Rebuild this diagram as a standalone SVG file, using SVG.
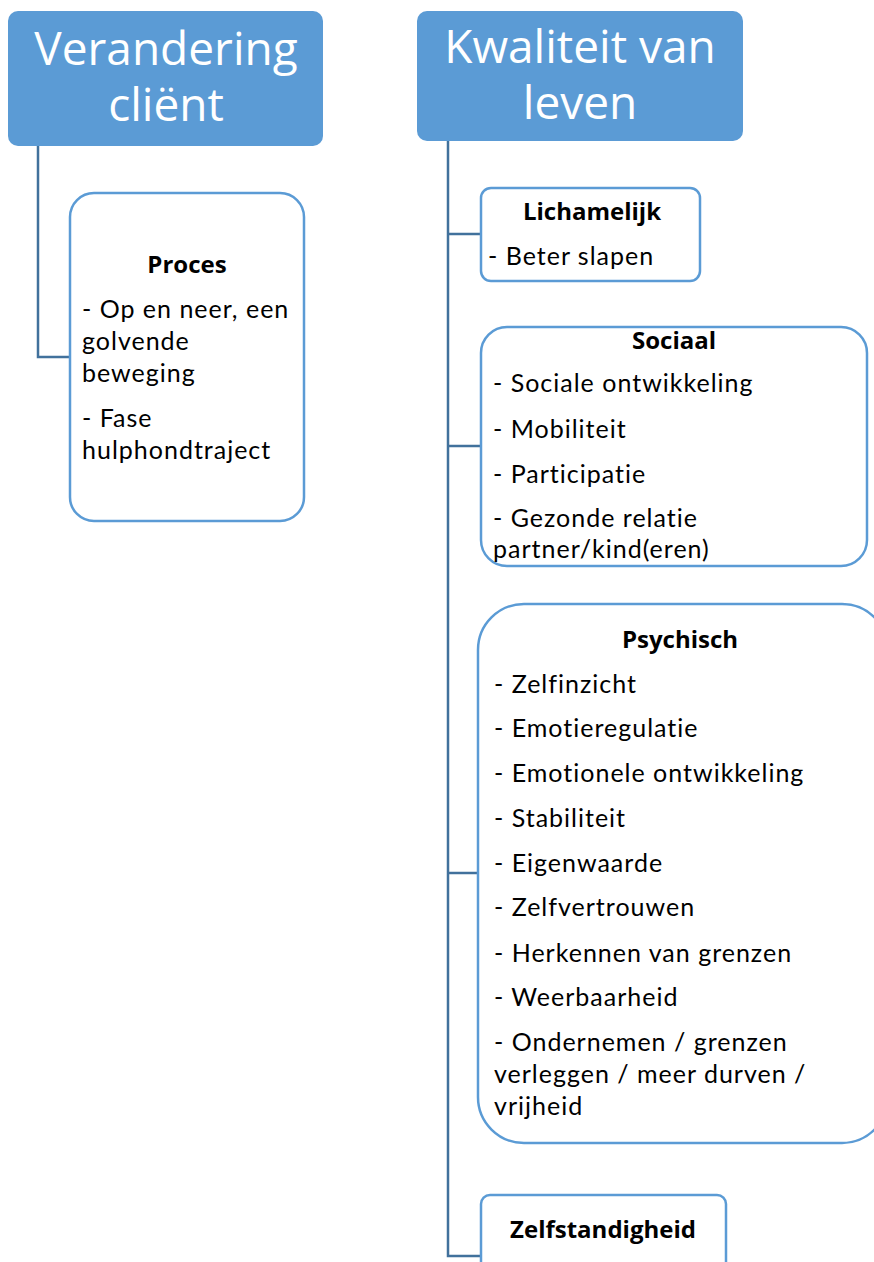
<svg xmlns="http://www.w3.org/2000/svg" width="874" height="1262" viewBox="0 0 874 1262">
  <style>
    .head { fill: #5B9BD5; }
    .head-text { fill: #ffffff; font-family: "Open Sans", Lato, sans-serif; font-size: 46px; text-anchor: middle; }
    .card { fill: #ffffff; stroke: #5B9BD5; stroke-width: 2.5; }
    .title { font-family: "Open Sans", Lato, sans-serif; font-size: 24px; font-weight: bold; fill: #000; text-anchor: middle; }
    .item { font-family: Lato, "Open Sans", sans-serif; font-size: 25px; letter-spacing: 1px; fill: #000; }
    .link { fill: none; stroke: #41719C; stroke-width: 2.5; }
  </style>

  <!-- connectors -->
  <g id="connectors">
    <path class="link" d="M38 146 V357 H70"/>
    <path class="link" d="M448 141 V1256 H481"/>
    <path class="link" d="M448 234 H481"/>
    <path class="link" d="M448 446 H481"/>
    <path class="link" d="M448 873 H478"/>
  </g>

  <g id="verandering">
    <rect class="head" x="8" y="11" width="315" height="135" rx="10"/>
    <text class="head-text" x="166" y="65">Verandering</text>
    <text class="head-text" x="166" y="121">cliënt</text>
  </g>

  <g id="kwaliteit">
    <rect class="head" x="417" y="11" width="326" height="130" rx="10"/>
    <text class="head-text" x="580" y="63">Kwaliteit van</text>
    <text class="head-text" x="580" y="119">leven</text>
  </g>

  <g id="proces">
    <rect class="card" x="70" y="193" width="234" height="328" rx="24"/>
    <text class="title" x="187" y="273">Proces</text>
    <text class="item" x="82" y="318">- Op en neer, een</text>
    <text class="item" x="82" y="350">golvende</text>
    <text class="item" x="82" y="382">beweging</text>
    <text class="item" x="82" y="427">- Fase</text>
    <text class="item" x="82" y="459">hulphondtraject</text>
  </g>

  <g id="lichamelijk">
    <rect class="card" x="481" y="188" width="219" height="93" rx="10"/>
    <text class="title" x="592" y="220">Lichamelijk</text>
    <text class="item" x="488" y="265">- Beter slapen</text>
  </g>

  <g id="sociaal">
    <rect class="card" x="481" y="327" width="386" height="239" rx="26"/>
    <text class="title" x="674" y="349">Sociaal</text>
    <text class="item" x="493" y="392">- Sociale ontwikkeling</text>
    <text class="item" x="493" y="438">- Mobiliteit</text>
    <text class="item" x="493" y="483">- Participatie</text>
    <text class="item" x="493" y="527">- Gezonde relatie</text>
    <text class="item" x="493" y="558">partner/kind(eren)</text>
  </g>

  <g id="psychisch">
    <rect class="card" x="478" y="604" width="410" height="539" rx="46"/>
    <text class="title" x="680" y="648">Psychisch</text>
    <text class="item" x="494" y="693">- Zelfinzicht</text>
    <text class="item" x="494" y="737">- Emotieregulatie</text>
    <text class="item" x="494" y="782">- Emotionele ontwikkeling</text>
    <text class="item" x="494" y="827">- Stabiliteit</text>
    <text class="item" x="494" y="872">- Eigenwaarde</text>
    <text class="item" x="494" y="916">- Zelfvertrouwen</text>
    <text class="item" x="494" y="962">- Herkennen van grenzen</text>
    <text class="item" x="494" y="1006">- Weerbaarheid</text>
    <text class="item" x="494" y="1051">- Ondernemen / grenzen</text>
    <text class="item" x="494" y="1083">verleggen / meer durven /</text>
    <text class="item" x="494" y="1115">vrijheid</text>
  </g>

  <g id="zelfstandigheid">
    <rect class="card" x="481" y="1195" width="245" height="80" rx="9"/>
    <text class="title" x="603" y="1238">Zelfstandigheid</text>
  </g>
</svg>
